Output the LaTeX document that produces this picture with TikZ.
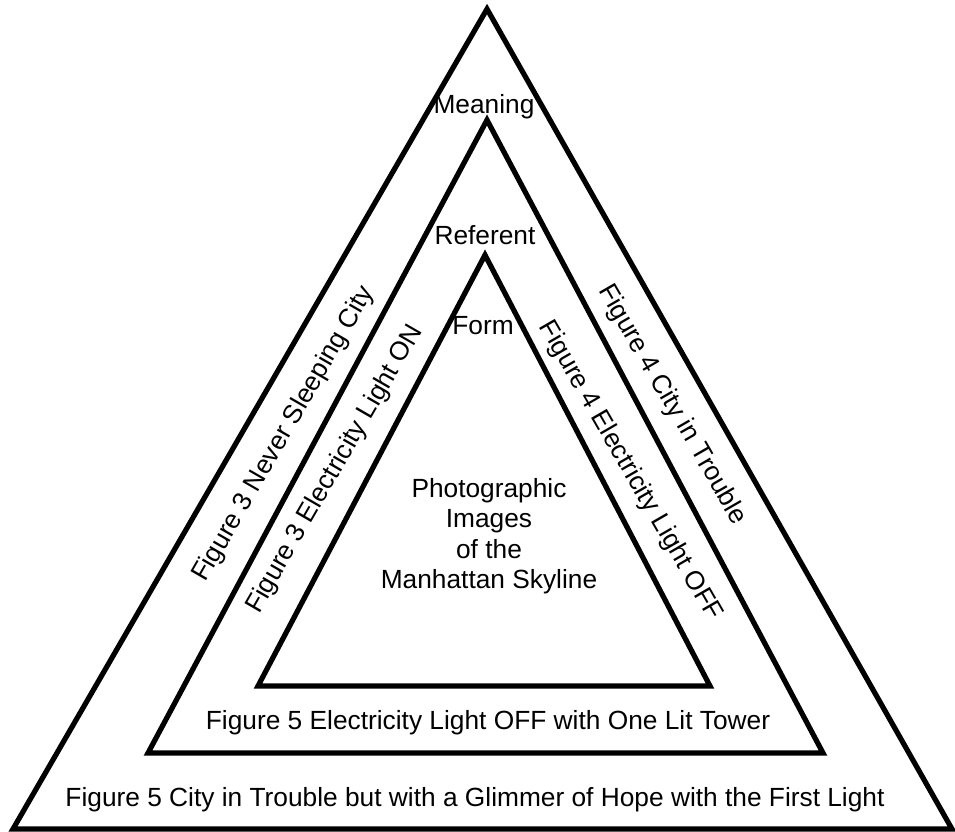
\documentclass[tikz,border=0pt]{standalone}
\usepackage{fontspec}
\setmainfont{Liberation Sans}
\begin{document}
\begin{tikzpicture}[x=1pt,y=-1pt,
  edge/.style={line width=5.2pt,line join=miter},
  lbl/.style={font=\fontsize{26.3}{30.5}\selectfont,inner sep=0pt,align=center}]
\useasboundingbox[fill=white] (0,0) rectangle (955,831);
% triangle vertices
\coordinate (oT) at (487,9);   \coordinate (oL) at (13,829);  \coordinate (oR) at (952,829);
\coordinate (mT) at (487,120); \coordinate (mL) at (148,753); \coordinate (mR) at (823,753);
\coordinate (iT) at (485,255); \coordinate (iL) at (258,686); \coordinate (iR) at (710,686);
\draw[edge] (oT) -- (oL) -- (oR) -- cycle;
\draw[edge] (mT) -- (mL) -- (mR) -- cycle;
\draw[edge] (iT) -- (iL) -- (iR) -- cycle;
% vertex labels
\node[lbl] (meaning) at (484,107) {Meaning};
\node[lbl] (referent) at (485,235) {Referent};
\node[lbl] (form) at (483,326) {Form};
% centre text
\node[lbl] (centre) at (489,536) {Photographic\\Images\\of the\\Manhattan Skyline};
% side labels
\node[lbl,rotate=60] (leftouter) at (284,434) {Figure 3 Never Sleeping City};
\node[lbl,rotate=60] (leftinner) at (335,469) {Figure 3 Electricity Light ON};
\node[lbl,rotate=-60] (rightouter) at (672,405) {Figure 4 City in Trouble};
\node[lbl,rotate=-60] (rightinner) at (630,471) {Figure 4 Electricity Light OFF};
% bottom labels
\node[lbl] (bottominner) at (488,723) {Figure 5 Electricity Light OFF with One Lit Tower};
\node[lbl] (bottomouter) at (475,800) {Figure 5 City in Trouble but with a Glimmer of Hope with the First Light};
\end{tikzpicture}
\end{document}
